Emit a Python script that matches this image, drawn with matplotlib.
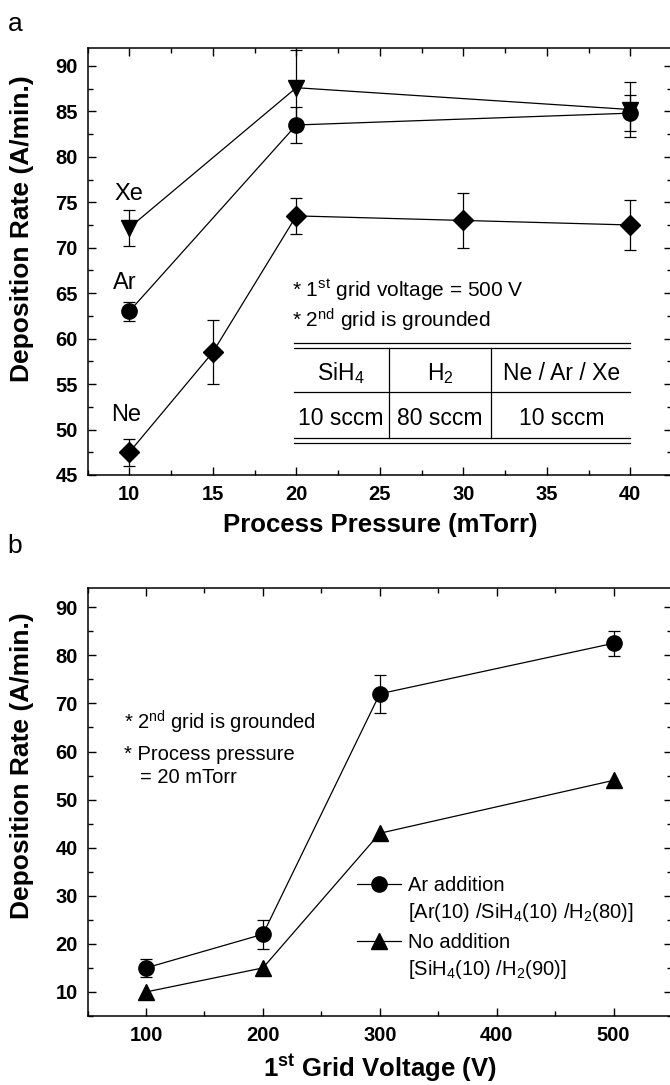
import matplotlib
matplotlib.use('Agg')
import matplotlib.pyplot as plt
from matplotlib.lines import Line2D
from matplotlib.ticker import MultipleLocator

base = 'Liberation Sans'
plt.rcParams['font.family'] = [base, 'DejaVu Sans']
plt.rcParams['mathtext.fontset'] = 'custom'
plt.rcParams['mathtext.rm'] = base
plt.rcParams['mathtext.it'] = base + ':italic'
plt.rcParams['mathtext.bf'] = base + ':bold'

W, H = 670, 1085

# (a) deposition rate vs process pressure, 1st grid 500 V
xe_p = [10, 20, 40]
xe_rate = [72.2, 87.6, 85.2]
xe_err = [2.0, 4.2, 3.0]
ar_p = [10, 20, 40]
ar_rate = [63.0, 83.5, 84.8]
ar_err = [1.05, 2.0, 2.0]
ne_p = [10, 15, 20, 30, 40]
ne_rate = [47.5, 58.5, 73.5, 73.0, 72.5]
ne_err = [1.5, 3.5, 2.0, 3.0, 2.7]

# (b) deposition rate vs 1st grid voltage, 20 mTorr
voltage = [100, 200, 300, 500]
ar_add = [15.0, 22.0, 72.0, 82.5]
ar_add_err = [1.9, 3.0, 4.0, 2.6]
no_add = [10.0, 15.0, 43.0, 54.0]


def px(x, y):
    return x / W, 1 - y / H


def frame(ax):
    for s in ax.spines.values():
        s.set_linewidth(1.1)
    ax.tick_params(which='both', direction='in', top=True, right=True, width=1.0)
    ax.tick_params(which='major', length=6, labelsize=14.5, pad=7)
    ax.tick_params(which='minor', length=3.5)
    for lbl in ax.get_xticklabels() + ax.get_yticklabels():
        lbl.set_fontweight('bold')


fig = plt.figure(figsize=(W / 100, H / 100), dpi=100)

# ---- panel a
ax1 = fig.add_axes([87.6 / W, 1 - 475 / H, (672 - 87.6) / W, (475 - 47.7) / H])
kw = dict(color='k', lw=0.9, elinewidth=0.9, capsize=4.2, capthick=0.9)
ax1.errorbar(ne_p, ne_rate, yerr=ne_err, marker='D', ms=10, **kw)
ax1.errorbar(ar_p, ar_rate, yerr=ar_err, marker='o', ms=11, **kw)
ax1.errorbar(xe_p, xe_rate, yerr=xe_err, marker='v', ms=12, **kw)
ax1.set_xlim(7.5, 42.5)
ax1.set_ylim(45, 92)
ax1.xaxis.set_major_locator(MultipleLocator(5))
ax1.xaxis.set_minor_locator(MultipleLocator(2.5))
ax1.yaxis.set_major_locator(MultipleLocator(5))
ax1.yaxis.set_minor_locator(MultipleLocator(2.5))
frame(ax1)
ax1.set_xlabel('Process Pressure (mTorr)', fontsize=18.5, fontweight='bold', labelpad=7)

ax1.text(10, 75.9, 'Xe', ha='center', va='center', fontsize=17)
ax1.text(9.7, 66.1, 'Ar', ha='center', va='center', fontsize=17)
ax1.text(9.8, 51.6, 'Ne', ha='center', va='center', fontsize=17)

fig.text(*px(291.5, 297), r'* 1$^{\rm st}$ grid voltage = 500 V', fontsize=15, va='baseline')
fig.text(*px(291.5, 327), r'* 2$^{\rm nd}$ grid is grounded', fontsize=15, va='baseline')

# gas flow table
tx0, tx1 = 293.5, 630
for yy in (342.7, 348.3, 392.3, 437.7, 442.7):
    fig.add_artist(Line2D([tx0 / W, tx1 / W], [1 - yy / H, 1 - yy / H], color='k', lw=0.9))
for xx in (388.8, 490.7):
    fig.add_artist(Line2D([xx / W, xx / W], [1 - 348.3 / H, 1 - 437.7 / H], color='k', lw=0.9))
head = [r'SiH$_{\rm 4}$', r'H$_{\rm 2}$', 'Ne / Ar / Xe']
flow = ['10 sccm', '80 sccm', '10 sccm']
for cx, h_txt, f_txt in zip((341, 440, 562), head, flow):
    fig.text(*px(cx, 380), h_txt, fontsize=16.5, ha='center', va='baseline')
    fig.text(*px(cx, 425), f_txt, fontsize=16.5, ha='center', va='baseline')

fig.text(*px(15, 24), 'a', fontsize=19, ha='center', va='center')
fig.text(*px(22, 229), 'Deposition Rate (A/min.)', fontsize=19, fontweight='bold',
         rotation=90, ha='center', va='center')

# ---- panel b
ax2 = fig.add_axes([87.6 / W, 1 - 1016 / H, (672 - 87.6) / W, (1016 - 588) / H])
ax2.errorbar(voltage, ar_add, yerr=ar_add_err, marker='o', ms=11, **kw)
ax2.plot(voltage, no_add, marker='^', ms=12, color='k', lw=0.9)
ax2.set_xlim(50, 550)
ax2.set_ylim(5, 94)
ax2.xaxis.set_major_locator(MultipleLocator(100))
ax2.xaxis.set_minor_locator(MultipleLocator(50))
ax2.yaxis.set_major_locator(MultipleLocator(10))
ax2.yaxis.set_minor_locator(MultipleLocator(5))
frame(ax2)
ax2.set_xlabel(r'1$^{\bf st}$ Grid Voltage (V)', fontsize=18.5, fontweight='bold', labelpad=5)

fig.text(*px(124, 730), r'* 2$^{\rm nd}$ grid is grounded', fontsize=14.5, va='baseline')
fig.text(*px(124, 760), '* Process pressure', fontsize=14.5, va='baseline')
fig.text(*px(139.8, 783), '= 20 mTorr', fontsize=14.5, va='baseline')

leg_kw = dict(loc='upper left', bbox_transform=fig.transFigure, frameon=False,
              fontsize=14.5, handlelength=2.2, handletextpad=0.35, borderpad=0,
              borderaxespad=0, labelspacing=0.3)
leg1 = ax2.legend([Line2D([], [], color='k', lw=0.9, marker='o', ms=11), Line2D([], [], ls='none')],
                  ['Ar addition', r'[Ar(10) /SiH$_{\rm 4}$(10) /H$_{\rm 2}$(80)]'],
                  bbox_to_anchor=px(357, 876), **leg_kw)
ax2.add_artist(leg1)
ax2.legend([Line2D([], [], color='k', lw=0.9, marker='^', ms=12), Line2D([], [], ls='none')],
           ['No addition', r'[SiH$_{\rm 4}$(10) /H$_{\rm 2}$(90)]'],
           bbox_to_anchor=px(357, 933), **leg_kw)

fig.text(*px(15, 546), 'b', fontsize=19, ha='center', va='center')
fig.text(*px(22, 766), 'Deposition Rate (A/min.)', fontsize=19, fontweight='bold',
         rotation=90, ha='center', va='center')

fig.savefig('out.png', dpi=100)
